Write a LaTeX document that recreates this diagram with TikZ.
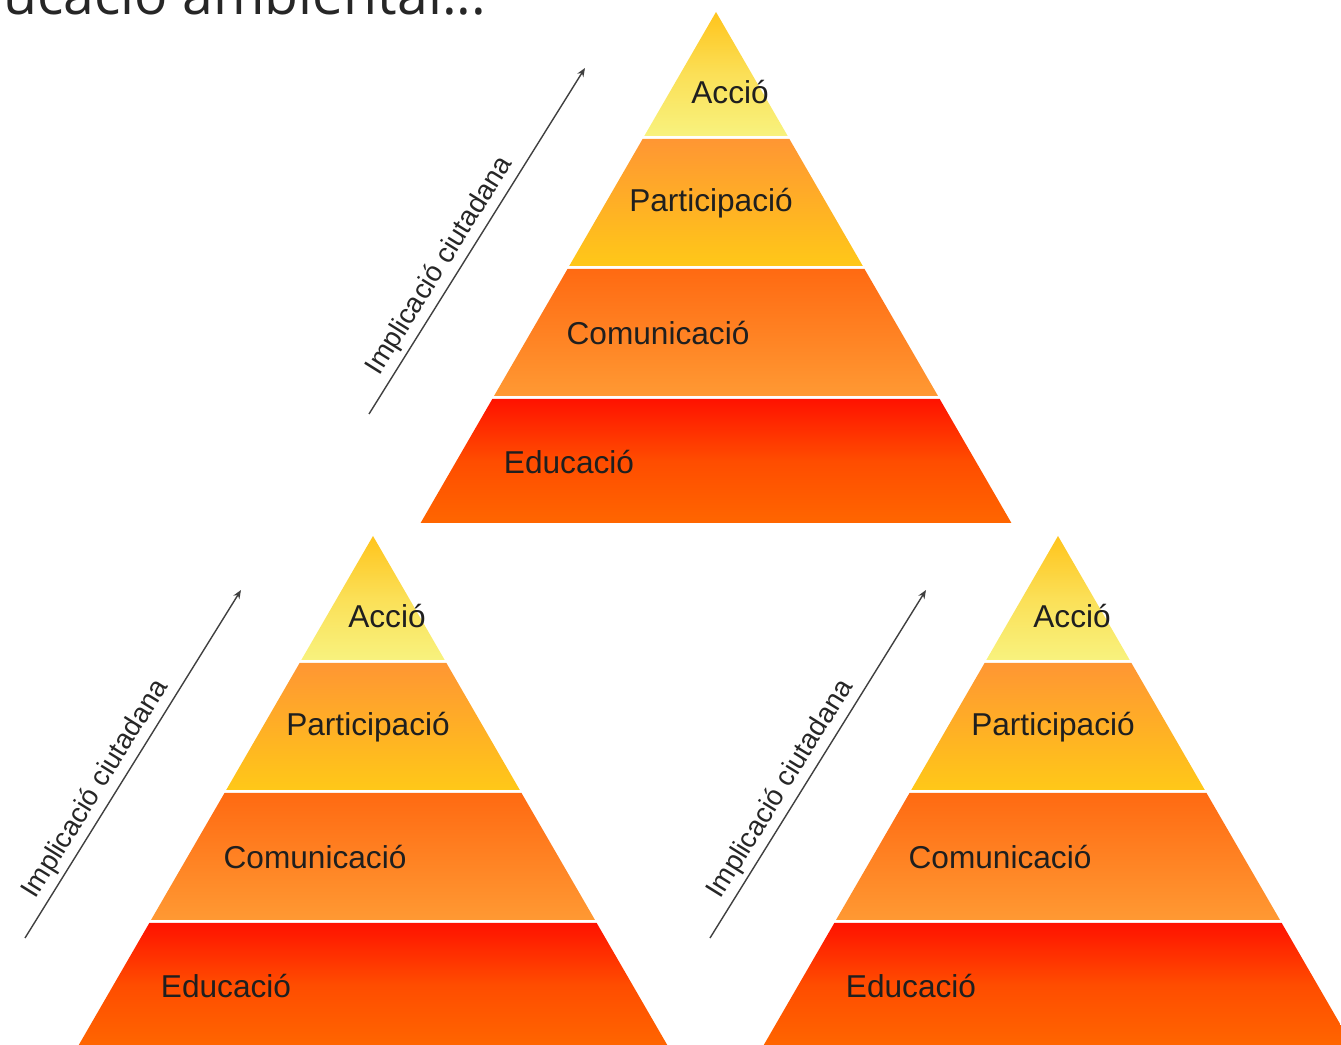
\documentclass[tikz,border=0pt]{standalone}
\usepackage{fontspec}
\setmainfont{Liberation Sans}
\newfontfamily\titlefont{Open Sans}
\usetikzlibrary{arrows.meta}
\definecolor{accioTop}{HTML}{FFC41C}
\definecolor{accioBot}{HTML}{F8F27E}
\definecolor{partTop}{HTML}{FF9633}
\definecolor{partBot}{HTML}{FFC818}
\definecolor{comTop}{HTML}{FF6A12}
\definecolor{comBot}{HTML}{FF9933}
\definecolor{eduTop}{HTML}{FF1200}
\definecolor{eduBot}{HTML}{FF6600}
\tikzstyle{accio}=[top color=accioTop, bottom color=accioBot, middle color=accioBot!60!accioTop]
\tikzstyle{part}=[top color=partTop, bottom color=partBot]
\tikzstyle{com}=[top color=comTop, bottom color=comBot]
\tikzstyle{edu}=[top color=eduTop, bottom color=eduBot, middle color=eduBot!70!eduTop]
\tikzstyle{band}=[font=\fontsize{18}{21}\selectfont, text=black!88, inner sep=0pt]
\tikzstyle{arrowline}=[draw=black!75, line width=0.8pt, -{Stealth[length=5pt,width=4pt]}]
\tikzstyle{arrowlabel}=[font=\fontsize{15.8}{19}\selectfont, text=black!85, sloped, above, inner sep=2.5pt]

\begin{document}
\begin{tikzpicture}[x=0.02cm, y=0.02cm]
\useasboundingbox (0,0) rectangle (1341,1044);
\node[font=\titlefont\fontsize{31.5}{36}\selectfont, text=black!85, anchor=base west, inner sep=0pt] (title) at (3,1029) {ucació ambiental...};

% Top pyramid
\begin{scope}[shift={(716,1032)}]
	\shade[accio] (0,0) -- (-71.7,-124) -- (71.7,-124) -- cycle;
	\shade[part] (-73.4,-127) -- (73.4,-127) -- (146.8,-254) -- (-146.8,-254) -- cycle;
	\shade[com] (-148.5,-257) -- (148.5,-257) -- (222,-384) -- (-222,-384) -- cycle;
	\shade[edu] (-223.7,-387) -- (223.7,-387) -- (295.4,-511) -- (-295.4,-511) -- cycle;
	\node[band] (tA) at (14,-80) {Acció};
	\node[band] (tP) at (-5,-191) {Participació};
	\node[band] (tC) at (-58,-321) {Comunicació};
	\node[band] (tE) at (-147,-450) {Educació};
	\coordinate (ta0) at (-347,-402);
	\coordinate (ta1) at (-131,-56);
	\draw[arrowline] (ta0) -- node[arrowlabel, pos=0.40] (tlab) {Implicació ciutadana} (ta1);
\end{scope}

% Bottom left pyramid
\begin{scope}[shift={(373,508)}]
	\shade[accio] (0,0) -- (-71.7,-124) -- (71.7,-124) -- cycle;
	\shade[part] (-73.4,-127) -- (73.4,-127) -- (146.8,-254) -- (-146.8,-254) -- cycle;
	\shade[com] (-148.5,-257) -- (148.5,-257) -- (222,-384) -- (-222,-384) -- cycle;
	\shade[edu] (-223.7,-387) -- (223.7,-387) -- (295.4,-511) -- (-295.4,-511) -- cycle;
	\node[band] (lA) at (14,-80) {Acció};
	\node[band] (lP) at (-5,-191) {Participació};
	\node[band] (lC) at (-58,-321) {Comunicació};
	\node[band] (lE) at (-147,-450) {Educació};
	\coordinate (la0) at (-348,-402);
	\coordinate (la1) at (-132,-54);
	\draw[arrowline] (la0) -- node[arrowlabel, pos=0.40] (llab) {Implicació ciutadana} (la1);
\end{scope}

% Bottom right pyramid
\begin{scope}[shift={(1058,508)}]
	\shade[accio] (0,0) -- (-71.7,-124) -- (71.7,-124) -- cycle;
	\shade[part] (-73.4,-127) -- (73.4,-127) -- (146.8,-254) -- (-146.8,-254) -- cycle;
	\shade[com] (-148.5,-257) -- (148.5,-257) -- (222,-384) -- (-222,-384) -- cycle;
	\shade[edu] (-223.7,-387) -- (223.7,-387) -- (295.4,-511) -- (-295.4,-511) -- cycle;
	\node[band] (rA) at (14,-80) {Acció};
	\node[band] (rP) at (-5,-191) {Participació};
	\node[band] (rC) at (-58,-321) {Comunicació};
	\node[band] (rE) at (-147,-450) {Educació};
	\coordinate (ra0) at (-348,-402);
	\coordinate (ra1) at (-132,-54);
	\draw[arrowline] (ra0) -- node[arrowlabel, pos=0.40] (rlab) {Implicació ciutadana} (ra1);
\end{scope}
\end{tikzpicture}
\end{document}
